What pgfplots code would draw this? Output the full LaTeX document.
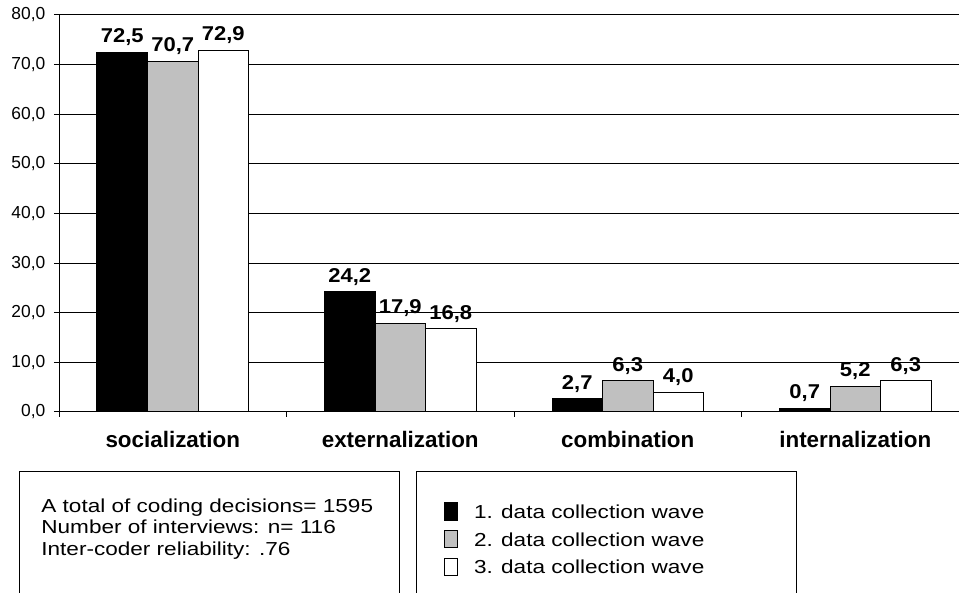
\documentclass[border=0pt]{standalone}
\usepackage{fontspec}
\setmainfont{Liberation Sans}
\newfontfamily\wide{Liberation Sans}[FakeStretch=1.2]
\newfontfamily\vals{Liberation Sans}[FakeStretch=1.1]
\usepackage{pgfplots}
\pgfplotsset{compat=1.18}
\definecolor{barg}{RGB}{192,192,192}
\pgfplotsset{mylegend/.style={legend image code/.code={\draw[##1,line width=0.5pt] (0pt,-3.5pt) rectangle (6.3pt,5.3pt);}}}
\begin{document}
\begin{tikzpicture}
\path[use as bounding box] (0pt,0pt) rectangle (479.5pt,296.5pt);
\clip (0pt,0pt) rectangle (479.5pt,296.5pt);
\begin{axis}[
  at={(29.5pt,90.5pt)}, anchor=south west,
  scale only axis, width=450pt, height=198.5pt,
  xmin=-0.5, xmax=3.456, ymin=0, ymax=80,
  enlargelimits=false,
  axis x line*=bottom, axis y line*=left,
  axis line style={black, line width=0.5pt, -},
  ytick={0,10,...,80},
  ymajorgrids, grid style={black, line width=0.5pt},
  xtick={-0.5,0.5,1.5,2.5},
  xticklabels={,,,},
  extra x ticks={0,1,2,3},
  extra x tick labels={socialization,externalization,combination,internalization},
  extra x tick style={tick style={draw=none}, grid=none,
    xticklabel style={font=\bfseries\fontsize{11.2}{13}\selectfont, anchor=north, inner sep=0pt, yshift=-7pt}},
  tick align=outside,
  major tick length=2.5pt,
  tick style={black, line width=0.5pt},
  yticklabel style={font=\fontsize{8.7}{10}\selectfont, xshift=-0.8pt},
  /pgf/number format/.cd, fixed, fixed zerofill, precision=1, use comma, assume math mode=true,
  /pgfplots/.cd,
  ybar, bar width=0.222,
  nodes near coords,
  nodes near coords style={font=\vals\bfseries\fontsize{10}{12}\selectfont, inner sep=0pt, yshift=3pt},
  legend style={draw=none, fill=none, at={(0.4278,-0.2259)}, anchor=north west,
    font=\wide\fontsize{9.4}{11}\selectfont, row sep=4.15pt, column sep=8pt, inner sep=0pt,
    nodes={inner sep=0pt}, cells={anchor=base west}},
  legend cell align=left,
]
\addplot[fill=black, draw=black, line width=0.5pt, bar shift=-0.222, mylegend] coordinates {(0,72.5) (1,24.2) (2,2.7) (3,0.7)};
\addplot[fill=barg, draw=black, line width=0.5pt, bar shift=0, mylegend] coordinates {(0,70.7) (1,17.9) (2,6.3) (3,5.2)};
\addplot[fill=white, draw=black, line width=0.5pt, bar shift=0.222, mylegend] coordinates {(0,72.9) (1,16.8) (2,4.0) (3,6.3)};
\legend{1. data collection wave, 2. data collection wave, 3. data collection wave}
\end{axis}
\draw[black, line width=0.5pt] (9.5pt,60.5pt) rectangle (199.5pt,-5pt);
\draw[black, line width=0.5pt] (208pt,60.5pt) rectangle (398pt,-5pt);
\node[anchor=north west, inner sep=0pt, align=left, font=\wide\fontsize{9.4}{10.85}\selectfont] at (20.5pt,47.4pt)
  {A total of coding decisions= 1595\\Number of interviews: n= 116\\Inter-coder reliability: .76};
\end{tikzpicture}
\end{document}
